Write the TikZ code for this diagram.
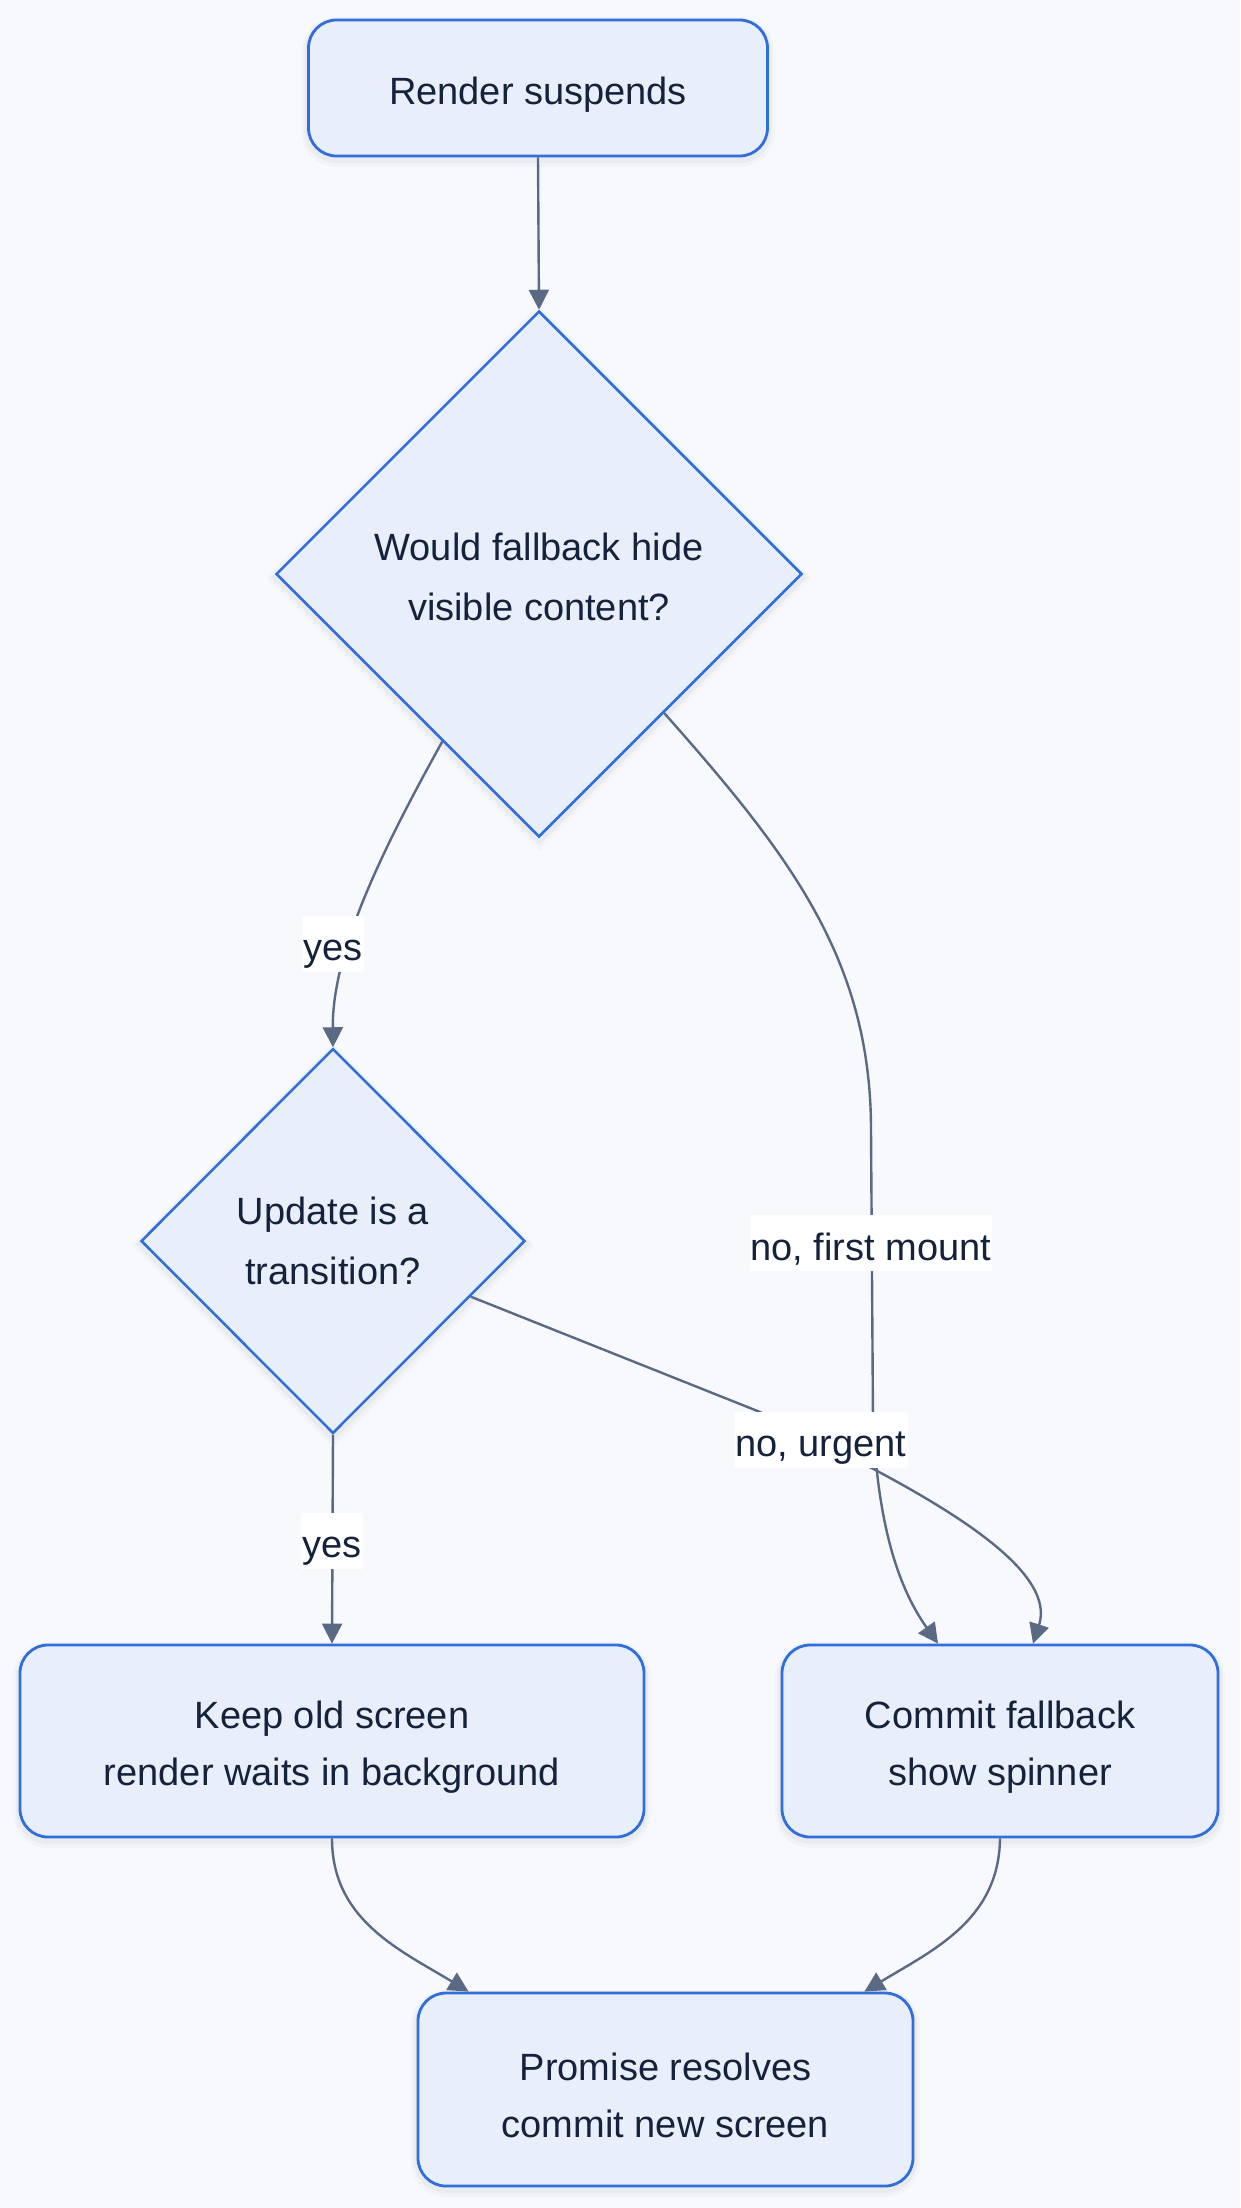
\documentclass[tikz,border=0pt]{standalone}
\usepackage{fontspec}
\setmainfont{Liberation Sans}
\usetikzlibrary{shapes.geometric,arrows.meta}
\definecolor{bgcol}{HTML}{F7F9FD}
\definecolor{nodefill}{HTML}{E8EEFA}
\definecolor{nodeborder}{HTML}{2F6EDB}
\definecolor{textcol}{HTML}{15223B}
\definecolor{edgecol}{HTML}{5A6A85}
\newcommand{\tup}{\rule{0pt}{40pt}}
\newcommand{\dup}{\rule{0pt}{33pt}}
\begin{document}
\begin{tikzpicture}[x=1pt,y=-1pt,
  font=\fontsize{38}{57}\selectfont,
  softshadow/.style={preaction={draw=black, opacity=0.025, line width=14pt, transform canvas={yshift=-4pt}},
                     preaction={draw=black, opacity=0.03, line width=8pt, transform canvas={yshift=-3pt}}},
  box/.style={softshadow, draw=nodeborder, fill=nodefill, line width=2.8pt, rounded corners=28pt, text=textcol, align=center, inner sep=0pt},
  dec/.style={softshadow, diamond, draw=nodeborder, fill=nodefill, line width=2.5pt, text=textcol, align=center, inner sep=0pt, aspect=1,
              font=\fontsize{38}{60}\selectfont},
  edge/.style={draw=edgecol, line width=2.4pt, -{Triangle[length=20pt,width=20pt]}},
  lbl/.style={fill=white, text=textcol, inner xsep=1pt, inner ysep=0pt, minimum height=56pt}
]
\fill[bgcol] (0,0) rectangle (1240,2208);
\useasboundingbox (0,0) rectangle (1240,2208);

\node[box, minimum width=459pt, minimum height=136pt] (render) at (538,88) {\tup Render suspends};
\node[dec, minimum width=526pt, minimum height=526pt] (d1) at (539,574) {\dup Would fallback hide\\visible content?};
\node[dec, minimum width=384pt, minimum height=385pt] (d2) at (333,1241) {Update is a\\transition?};
\node[box, minimum width=624pt, minimum height=192pt] (keep) at (332,1741) {\tup Keep old screen\\render waits in background};
\node[box, minimum width=436pt, minimum height=192pt] (commit) at (1000,1741) {\tup Commit fallback\\show spinner};
\node[box, minimum width=495pt, minimum height=193pt] (promise) at (665.5,2089.5) {\tup Promise resolves\\commit new screen};

\coordinate (fm1) at (871,1130);
\coordinate (fm2) at (873,1420);
\coordinate (ur) at (760,1412);

\draw[edge] (render.south) -- (d1.north);
\draw[edge] (d1.240) .. controls (385,845) and (332,950) .. (d2.north);
\draw[edge] (d1.-48) .. controls (790,855) and (871,960) .. (fm1) -- (fm2) .. controls (878,1530) and (900,1590) .. ([xshift=-62pt]commit.north);
\draw[edge] (d2.-22) -- (ur) .. controls (900,1480) and (1060,1560) .. ([xshift=33pt]commit.north);
\draw[edge] (d2.south) -- (keep.north);
\draw[edge] (keep.south) .. controls (332,1920) and (400,1950) .. ([xshift=52pt]promise.north west);
\draw[edge] (commit.south) .. controls (999,1920) and (933,1950) .. ([xshift=-50pt]promise.north east);

\node[lbl] (lyes1) at (333,944) {\tup yes};
\node[lbl] (lfm) at (871,1243) {\tup no, first mount};
\node[lbl] (lur) at (821,1440) {\tup no, urgent};
\node[lbl] (lyes2) at (332,1541) {\tup yes};
\end{tikzpicture}
\end{document}
